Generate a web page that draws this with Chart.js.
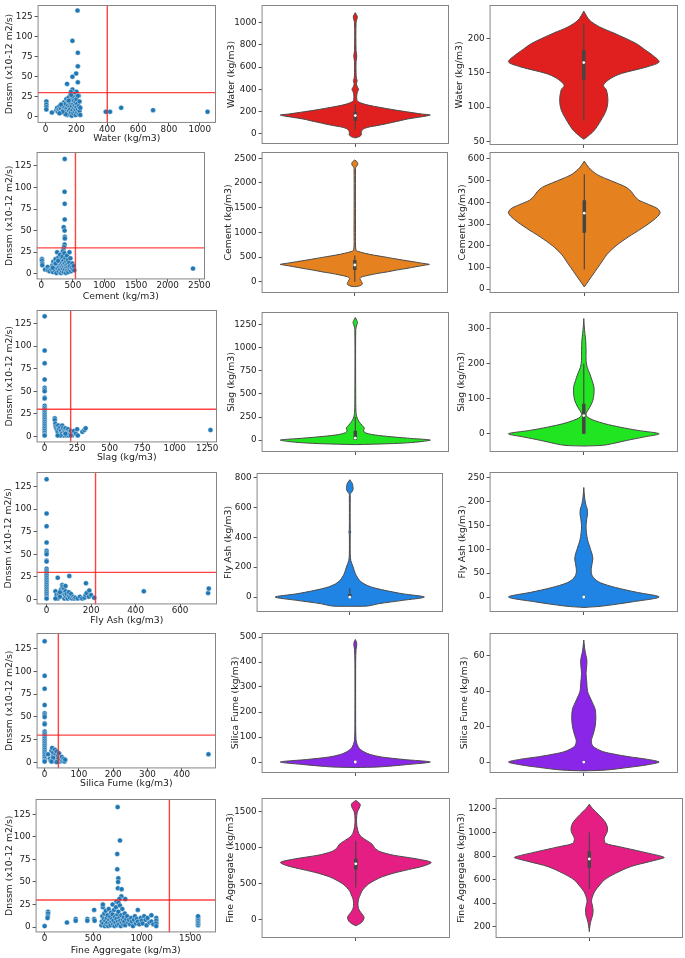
<!DOCTYPE html>
<html>
<head>
<meta charset="utf-8">
<script src="https://cdn.jsdelivr.net/npm/chart.js@4.4.0/dist/chart.umd.min.js"></script>
<style>
  body { margin: 0; background: #fff; width: 685px; height: 958px; position: relative; overflow: hidden; }
  canvas { position: absolute; }
</style>
</head>
<body>
<script>
// ---------- data ----------
const dnssmLimit = 30;
const componentLimits = [400, 540, 200, 220, 40, 1285];
const scatterYTicks = [0, 25, 50, 75, 100, 125];

// Dnssm vs component, [x, y]
const waterPts = [[207,133],[174,95],[209,80],[209,63],[198,54],[174,50],[209,43],[139,41],[174,34],[165,31],[200,31],[185,28],[215,26],[160,27],[195,25],
  [5,19],[5,15],[5,12],[5,9],[41,5],
  [70,8],[75,11],[80,6],[85,9],[90,13],[95,7],[100,10],[105,5],[110,14],[115,8],[120,12],[120,18],[125,4],[130,9],[130,16],[135,6],[135,22],[140,11],[140,2],[145,14],[145,19],[150,7],[150,24],[155,3],[155,12],[160,9],[160,17],[165,5],[165,21],[170,13],[170,1],[175,8],[175,25],[180,16],[180,4],[185,11],[185,20],[190,6],[190,14],[195,2],[195,9],[195,18],[200,12],[200,22],[205,5],[205,16],[210,9],[210,26],[215,3],[215,13],[220,7],[220,19],[225,11],[225,2],[165,27],[150,20],[130,3],[110,6],[90,4],[100,15],
  [390,6],[418,6],[490,11],[697,8],[1050,6]];
const cementPts = [[370,133],[368,95],[370,81],[370,63],[354,54],[368,50],[372,43],[372,41],[368,34],[360,31],[350,28],[340,26],
  [10,17],[10,15],[15,12],[15,10],[60,5],[100,8],[105,4],[130,3],
  [160,5],[175,10],[185,2],[190,14],[200,7],[210,11],[215,4],[225,17],[230,8],[240,1],[245,13],[250,25],[255,6],[265,10],[270,19],[275,3],[285,8],[290,14],[295,22],[300,5],[305,11],[310,1],[315,17],[320,8],[325,13],[330,3],[335,20],[340,6],[345,10],[350,15],[355,2],[360,8],[365,24],[370,12],[375,5],[380,18],[385,9],[390,1],[395,14],[400,7],[405,21],[410,4],[415,11],[420,16],[425,2],[430,8],[440,13],[445,25],[450,5],[455,9],[460,18],[470,3],[480,7],[490,12],[500,5],[510,9],[520,4],[225,12],[180,7],[265,15],
  [2400,6]];
const slagPts = [[0,133],[0,95],[0,81],[0,63],[0,54],[0,52],[0,50],[0,43],[0,42],[0,34],[0,32],[0,30],[0,28],[0,26],[0,24],[0,22],[0,20],[0,18],[0,16],[0,14],[0,12],[0,10],[0,8],[0,6],[0,4],[0,2],[0,1],
  [78,20],[78,18],[82,14],[85,11],[90,9],[95,7],[100,5],[105,12],[110,8],[115,1],[120,10],[125,6],[130,3],[135,12],[140,9],[145,1],[150,7],[155,5],[160,9],[165,1],[170,6],[175,4],[180,8],[185,1],[190,5],[195,3],[200,6],[210,1],[215,4],[225,6],[240,3],[250,8],[255,1],[290,5],[305,7],[315,9],[120,1],[100,1],[160,3],[200,1],
  [1275,7]];
const flyAshPts = [[0,133],[0,95],[0,81],[0,63],[0,54],[0,52],[0,50],[0,43],[0,42],[0,34],[0,32],[0,30],[0,28],[0,26],[0,24],[0,22],[0,20],[0,18],[0,16],[0,14],[0,12],[0,10],[0,8],[0,6],[0,4],[0,2],[0,1],
  [50,24],[102,26],[40,9],[45,5],[50,1],[55,6],[60,3],[65,11],[70,16],[72,14],[75,7],[78,12],[80,1],[82,5],[85,9],[88,3],[90,6],[95,1],[100,4],[100,8],[105,2],[110,6],[115,1],[120,3],[125,1],[130,2],[140,1],[150,3],[160,1],[170,2],[175,5],[177,18],[180,7],[190,3],[192,10],[200,5],[214,2],[60,8],[40,1],[85,15],
  [437,9],[726,7],[729,12]];
const silicaPts = [[0,133],[0,95],[0,81],[0,63],[0,54],[0,52],[0,50],[0,43],[0,42],[0,34],[0,32],[0,30],[0,28],[0,26],[0,24],[0,22],[0,20],[0,18],[0,16],[0,14],[0,12],[0,10],[0,8],[0,6],[0,4],[0,2],[0,1],
  [10,9],[15,4],[18,2],[20,13],[22,16],[24,7],[25,11],[28,3],[30,14],[30,1],[32,9],[34,5],[35,12],[36,2],[38,7],[40,4],[42,10],[45,1],[48,3],[50,6],[52,2],[55,4],[58,1],[60,3],[25,5],[20,1],[35,0.5],
  [478,9]];
const finePts = [[752,133],[776,96],[748,81],[748,64],[759,54],[757,50],[755,43],[793,42],[790,34],[770,31],[830,31],[740,28],[760,27],
  [0,1],[35,17],[35,15],[33,12],[30,10],[230,5],[320,9],[320,7],[440,9],[440,7],[510,19],[510,9],[515,7],
  [585,2],[590,6],[595,12],[600,22],[600,25],[605,4],[610,9],[615,15],[620,1],[625,7],[630,18],[635,3],[640,10],[645,5],[650,13],[655,1],[660,20],[665,8],[670,4],[675,11],[680,2],[685,16],[690,6],[695,9],[700,25],[700,14],[705,3],[710,7],[715,19],[720,1],[725,11],[730,5],[735,22],[740,9],[745,2],[750,14],[755,6],[760,17],[765,3],[770,10],[775,24],[780,7],[785,1],[790,13],[795,5],[800,20],[805,8],[810,3],[815,11],[820,6],[825,15],[830,2],[840,9],[850,12],[860,5],[870,8],[880,3],[890,10],[900,6],[910,1],[920,8],[930,12],[940,4],[950,9],[960,19],[960,6],[975,3],[990,10],[1000,7],[1010,4],[1025,12],[1040,8],[1050,2],[1060,10],[1080,5],[1100,13],[1100,6],[1120,3],[1150,10],[1150,7],[1150,4],[1150,1],
  [1580,2],[1580,4],[1580,6],[1580,8],[1580,10],[1580,12]];

const waterXTicks = [0, 200, 400, 600, 800, 1000];
const cementXTicks = [0, 500, 1000, 1500, 2000, 2500];
const slagXTicks = [0, 250, 500, 750, 1000, 1250];
const flyAshXTicks = [0, 200, 400, 600];
const silicaXTicks = [0, 100, 200, 300, 400];
const fineXTicks = [0, 500, 1000, 1500];

// violin outlines: value and relative half width (1 = widest)
const waterAllY = [-35,-25,-10,0,20,40,50,65,75,90,105,120,135,150,162,171,180,190,200,210,220,240,260,280,300,350,380,400,420,450,480,500,550,650,700,750,1000,1040,1060,1090];
const waterAllW = [0,0.05,0.08,0.08,0.08,0.1,0.12,0.2,0.29,0.4,0.5,0.6,0.7,0.84,0.95,1,0.88,0.78,0.68,0.58,0.49,0.32,0.17,0.07,0.025,0.02,0.03,0.045,0.03,0.015,0.025,0.015,0.01,0.01,0.02,0.01,0.01,0.025,0.025,0];
const waterCleanY = [53,57,66,81,96,110,125,132,142,149,159,166,176,183,193,208,217,227,240];
const waterCleanW = [0,0.05,0.14,0.23,0.3,0.32,0.3,0.26,0.36,0.5,0.85,1,0.91,0.82,0.69,0.4,0.21,0.075,0];
const cementAllY = [-100,-90,-75,-50,-25,0,30,67,101,135,169,200,236,270,304,338,351,380,405,439,470,507,540,574,610,640,1000,2300,2331,2360,2399,2430,2466];
const cementAllW = [0,0.05,0.08,0.1,0.1,0.09,0.08,0.07,0.1,0.2,0.31,0.44,0.56,0.7,0.82,0.95,1,0.88,0.78,0.64,0.52,0.38,0.25,0.14,0.05,0.015,0.01,0.01,0.02,0.035,0.04,0.03,0];
const cementCleanY = [10,40,80,120,160,200,240,280,320,350,370,390,410,430,450,470,490,510,530,560,590];
const cementCleanW = [0,0.06,0.14,0.22,0.3,0.42,0.58,0.76,0.92,1,0.97,0.85,0.72,0.66,0.62,0.55,0.42,0.28,0.16,0.06,0];
const slagAllY = [-50,-40,-30,-15,0,20,40,60,80,100,130,160,200,250,300,400,1200,1250,1275,1300,1330];
const slagAllW = [0,0.45,0.7,0.9,1,0.7,0.42,0.22,0.13,0.11,0.12,0.09,0.05,0.02,0.01,0.006,0.006,0.02,0.03,0.02,0];
const slagCleanY = [-35,-33,-28.6,-19,-9.5,0,9.5,19,28.6,38,47.6,57,76,95,114,133,152,171,190,209,238,267,286,310,329];
const slagCleanW = [0,0.25,0.37,0.57,0.79,1,0.72,0.48,0.28,0.14,0.05,0.03,0.08,0.12,0.135,0.135,0.11,0.08,0.045,0.03,0.03,0.025,0.015,0.005,0];
const flyAllY = [-62,-60,-45,-22,0,22,45,67,89,112,134,156,201,246,290,420,436,452,680,693,710,726,745,760,786];
const flyAllW = [0,0.24,0.38,0.71,1,0.71,0.47,0.29,0.19,0.13,0.1,0.075,0.045,0.013,0.006,0.006,0.012,0.006,0.006,0.01,0.035,0.045,0.04,0.035,0];
const flyCleanY = [-22,-19,-10,0,10,20,30,40,50,60,70,80,90,100,110,120,135,150,165,175,185,195,210,230];
const flyCleanW = [0,0.25,0.65,1,0.7,0.42,0.22,0.13,0.1,0.1,0.11,0.12,0.11,0.09,0.07,0.05,0.035,0.03,0.04,0.05,0.045,0.025,0.01,0];
const silicaAllY = [-22,-20,-10,0,10,20,30,40,50,60,80,100,150,400,450,470,480,490];
const silicaAllW = [0,0.3,0.7,1,0.65,0.35,0.2,0.12,0.07,0.04,0.015,0.008,0.005,0.005,0.01,0.02,0.015,0];
const silicaCleanY = [-5,-4.5,-3,-1.5,0,1.5,3,4.5,6,9,12,15,20,25,30,35,40,45,50,55,58,62,65,69];
const silicaCleanW = [0,0.3,0.6,0.85,1,0.85,0.6,0.4,0.25,0.12,0.1,0.12,0.15,0.16,0.15,0.1,0.05,0.04,0.03,0.04,0.04,0.02,0.01,0];
const fineAllY = [-80,-60,-30,0,30,60,100,150,200,250,300,350,400,450,500,550,600,650,700,750,800,850,900,950,1000,1050,1100,1150,1200,1300,1400,1500,1550,1600,1630,1660];
const fineAllW = [0,0.04,0.08,0.1,0.11,0.1,0.07,0.04,0.03,0.03,0.04,0.06,0.08,0.12,0.17,0.25,0.35,0.5,0.7,0.9,1,0.8,0.5,0.32,0.25,0.22,0.15,0.08,0.04,0.015,0.01,0.02,0.045,0.06,0.04,0];
const fineCleanY = [158,214,257,299,342,384,412,441,497,554,597,653,710,752,786,795,837,880,908,951,1007,1050,1092,1149,1206,1240];
const fineCleanW = [0,0.01,0.025,0.045,0.05,0.04,0.03,0.035,0.07,0.14,0.2,0.35,0.55,0.8,1,0.98,0.7,0.4,0.22,0.2,0.24,0.24,0.21,0.13,0.04,0];

// inner box: [whisker low, q1, median, q3, whisker high]
const waterAllBox = [40, 120, 165, 200, 270];
const waterCleanBox = [80, 140, 165, 183, 222];
const cementAllBox = [0, 236, 338, 439, 530];
const cementCleanBox = [90, 260, 350, 410, 530];
const slagAllBox = [0, 0, 20, 100, 250];
const slagCleanBox = [0, 0, 52, 86, 200];
const flyAllBox = [0, 0, 0, 20, 60];
const flyCleanBox = [0, 0, 0, 2, 5];
const silicaAllBox = [0, 0, 0, 3, 8];
const silicaCleanBox = [0, 0, 0, 0.5, 1];
const fineAllBox = [450, 700, 780, 850, 1100];
const fineCleanBox = [520, 700, 775, 840, 1000];

const waterAllTicks = [0, 200, 400, 600, 800, 1000];
const waterCleanTicks = [50, 100, 150, 200];
const cementAllTicks = [0, 500, 1000, 1500, 2000, 2500];
const cementCleanTicks = [0, 100, 200, 300, 400, 500, 600];
const slagAllTicks = [0, 250, 500, 750, 1000, 1250];
const slagCleanTicks = [0, 100, 200, 300];
const flyAllTicks = [0, 200, 400, 600, 800];
const flyCleanTicks = [0, 50, 100, 150, 200, 250];
const silicaAllTicks = [0, 100, 200, 300, 400, 500];
const silicaCleanTicks = [0, 20, 40, 60];
const fineAllTicks = [0, 500, 1000, 1500];
const fineCleanTicks = [200, 400, 600, 800, 1000, 1200];

const labels = ['Water (kg/m3)', 'Cement (kg/m3)', 'Slag (kg/m3)', 'Fly Ash (kg/m3)', 'Silica Fume (kg/m3)', 'Fine Aggregate (kg/m3)'];
const colors = ['#e01f1f', '#e5821f', '#21e521', '#1f84e3', '#8a26e8', '#e51e84'];

// ---------- drawing ----------
Chart.defaults.font.family = 'DejaVu Sans';
Chart.defaults.color = '#222';
Chart.defaults.animation = false;

const TICK_FONT = 8.8, TITLE_FONT = 9.3, LH = TITLE_FONT * 1.2;

const framePlugin = {
  id: 'frame',
  afterDatasetsDraw(chart) {
    const a = chart.chartArea, ctx = chart.ctx;
    ctx.save();
    ctx.strokeStyle = '#858585';
    ctx.lineWidth = 1;
    ctx.strokeRect(a.left + 0.5, a.top + 0.5, a.right - a.left - 1, a.bottom - a.top - 1);
    ctx.restore();
  }
};

function addCanvas(rect, yw, xh, padT, padR) {
  const c = document.createElement('canvas');
  const w = Math.round(yw + (rect.r - rect.l) + padR);
  const h = Math.round(padT + (rect.b - rect.t) + xh);
  c.width = w; c.height = h;
  c.style.width = w + 'px'; c.style.height = h + 'px';
  c.style.left = (rect.l - yw) + 'px';
  c.style.top = (rect.t - padT) + 'px';
  document.body.appendChild(c);
  return c;
}

function yAxis(range, ticks, title, yw) {
  return {
    type: 'linear', position: 'left', min: range[0], max: range[1],
    afterBuildTicks: s => { s.ticks = ticks.map(v => ({value: v})); },
    afterFit: s => { s.width = yw; s.paddingTop = 0; s.paddingBottom = 0; },
    grid: {drawOnChartArea: false, tickLength: 3, color: '#555'},
    border: {display: false},
    ticks: {padding: 2, autoSkip: false, font: {size: TICK_FONT}, color: '#222', callback: v => String(v)},
    title: {display: true, text: title, font: {size: TITLE_FONT}, padding: 0, color: '#222'}
  };
}

function xAxis(range, ticks, title, xh) {
  return {
    type: 'linear', position: 'bottom', min: range[0], max: range[1],
    afterBuildTicks: s => { s.ticks = ticks.map(v => ({value: v})); },
    afterFit: s => { s.height = xh; s.paddingLeft = 0; s.paddingRight = 0; },
    grid: {drawOnChartArea: false, tickLength: 3, color: '#555'},
    border: {display: false},
    ticks: {padding: -1, autoSkip: false, maxRotation: 0, font: {size: TICK_FONT, lineHeight: 1}, color: '#222',
      callback: v => title ? String(v) : ''},
    title: {display: !!title, text: title || '', font: {size: TITLE_FONT}, padding: 0, color: '#222'}
  };
}

function scatterPanel(p) {
  const yw = p.rect.l - p.yTitleX + LH / 2;
  const xh = p.xTitleY - p.rect.b + LH / 2;
  const padT = 6, padR = 14;
  const c = addCanvas(p.rect, yw, xh, padT, padR);
  const line = (pts) => ({data: pts, showLine: true, borderColor: 'rgba(255,20,20,0.8)', borderWidth: 1.4, pointRadius: 0, fill: false});
  new Chart(c, {
    type: 'scatter',
    data: {datasets: [
      line([{x: p.xr[0], y: dnssmLimit}, {x: p.xr[1], y: dnssmLimit}]),
      line([{x: p.limit, y: p.yr[0]}, {x: p.limit, y: p.yr[1]}]),
      {data: p.pts.map(d => ({x: d[0], y: d[1]})), pointRadius: 2.5, pointBackgroundColor: '#1f77b4',
        pointBorderColor: '#ffffff', pointBorderWidth: 0.4}
    ]},
    options: {
      responsive: false, devicePixelRatio: 1,
      layout: {padding: {left: 0, top: padT, right: padR, bottom: 0}},
      plugins: {legend: {display: false}, tooltip: {enabled: false}},
      scales: {
        x: xAxis(p.xr, p.xTicks, p.label, xh),
        y: yAxis(p.yr, scatterYTicks, 'Dnssm (x10-12 m2/s)', yw)
      }
    },
    plugins: [framePlugin]
  });
}

function violinPanel(p) {
  const yw = p.rect.l - p.yTitleX + LH / 2;
  const xh = 4, padT = 6, padR = 6;
  const half = 0.4;
  const c = addCanvas(p.rect, yw, xh, padT, padR);
  const right = p.vy.map((y, i) => ({x: p.vw[i] * half, y}));
  const left = p.vy.map((y, i) => ({x: -p.vw[i] * half, y})).reverse();
  const b = p.box;
  new Chart(c, {
    type: 'scatter',
    data: {datasets: [
      {data: [{x: 0, y: b[2]}], pointRadius: 1.4, pointBackgroundColor: '#ffffff', pointBorderWidth: 0, order: 0},
      {data: [{x: 0, y: b[1]}, {x: 0, y: b[3]}], showLine: true, borderColor: '#454545', borderWidth: 3.5,
        borderCapStyle: 'butt', pointRadius: 0, order: 1},
      {data: [{x: 0, y: b[0]}, {x: 0, y: b[4]}], showLine: true, borderColor: '#454545', borderWidth: 1.1,
        pointRadius: 0, order: 2},
      {data: right.concat(left), showLine: true, fill: 'shape', backgroundColor: p.color, borderColor: '#4a4a4a',
        borderWidth: 1, pointRadius: 0, tension: 0.3, order: 3}
    ]},
    options: {
      responsive: false, devicePixelRatio: 1,
      layout: {padding: {left: 0, top: padT, right: padR, bottom: 0}},
      plugins: {legend: {display: false}, tooltip: {enabled: false}},
      scales: {
        x: xAxis([-0.5, 0.5], [0], '', xh),
        y: yAxis(p.yr, p.ticks, p.label, yw)
      }
    },
    plugins: [framePlugin]
  });
}

const scatterPanels = [
  {pts: waterPts, xTicks: waterXTicks, xr: [-52, 1105], yr: [-8, 140], rect: {l: 38, t: 5, r: 216, b: 123}, xTitleY: 138.5, yTitleX: 10},
  {pts: cementPts, xTicks: cementXTicks, xr: [-75, 2590], yr: [-6.5, 141], rect: {l: 37, t: 152, r: 205, b: 279}, xTitleY: 296, yTitleX: 10},
  {pts: slagPts, xTicks: slagXTicks, xr: [-62, 1325], yr: [-6.7, 140], rect: {l: 37, t: 310, r: 217, b: 442}, xTitleY: 457, yTitleX: 10},
  {pts: flyAshPts, xTicks: flyAshXTicks, xr: [-45, 766], yr: [-5.5, 141], rect: {l: 37, t: 472, r: 217, b: 604}, xTitleY: 620, yTitleX: 9},
  {pts: silicaPts, xTicks: silicaXTicks, xr: [-23.5, 500], yr: [-6.5, 142], rect: {l: 37, t: 633, r: 216, b: 768}, xTitleY: 783, yTitleX: 10},
  {pts: finePts, xTicks: fineXTicks, xr: [-93, 1765], yr: [-6, 142], rect: {l: 36, t: 799, r: 216, b: 932}, xTitleY: 950, yTitleX: 10}
];
scatterPanels.forEach((p, i) => scatterPanel(Object.assign(p, {limit: componentLimits[i], label: labels[i]})));

const violinPanels = [
  {vy: waterAllY, vw: waterAllW, box: waterAllBox, ticks: waterAllTicks, yr: [-90, 1159], rect: {l: 262, t: 5, r: 449, b: 144}, yTitleX: 232},
  {vy: waterCleanY, vw: waterCleanW, box: waterCleanBox, ticks: waterCleanTicks, yr: [44.6, 249], rect: {l: 490, t: 5, r: 678, b: 145}, yTitleX: 460},
  {vy: cementAllY, vw: cementAllW, box: cementAllBox, ticks: cementAllTicks, yr: [-229, 2628], rect: {l: 262, t: 152, r: 448, b: 293}, yTitleX: 229},
  {vy: cementCleanY, vw: cementCleanW, box: cementCleanBox, ticks: cementCleanTicks, yr: [-18, 632], rect: {l: 490, t: 152, r: 679, b: 293}, yTitleX: 463},
  {vy: slagAllY, vw: slagAllW, box: slagAllBox, ticks: slagAllTicks, yr: [-130, 1390], rect: {l: 262, t: 312, r: 449, b: 452}, yTitleX: 232},
  {vy: slagCleanY, vw: slagCleanW, box: slagCleanBox, ticks: slagCleanTicks, yr: [-52, 347.6], rect: {l: 490, t: 312, r: 678, b: 452}, yTitleX: 462},
  {vy: flyAllY, vw: flyAllW, box: flyAllBox, ticks: flyAllTicks, yr: [-100, 831], rect: {l: 257, t: 473, r: 443, b: 612}, yTitleX: 229},
  {vy: flyCleanY, vw: flyCleanW, box: flyCleanBox, ticks: flyCleanTicks, yr: [-31.5, 262.6], rect: {l: 490, t: 472, r: 678, b: 612}, yTitleX: 463},
  {vy: silicaAllY, vw: silicaAllW, box: silicaAllBox, ticks: silicaAllTicks, yr: [-44, 516], rect: {l: 262, t: 633, r: 449, b: 773}, yTitleX: 236},
  {vy: silicaCleanY, vw: silicaCleanW, box: silicaCleanBox, ticks: silicaCleanTicks, yr: [-6.2, 73], rect: {l: 490, t: 633, r: 678, b: 773}, yTitleX: 465},
  {vy: fineAllY, vw: fineAllW, box: fineAllBox, ticks: fineAllTicks, yr: [-250, 1694], rect: {l: 262, t: 798, r: 450, b: 938}, yTitleX: 231},
  {vy: fineCleanY, vw: fineCleanW, box: fineCleanBox, ticks: fineCleanTicks, yr: [104, 1293], rect: {l: 496, t: 798, r: 683, b: 938}, yTitleX: 462}
];
violinPanels.forEach((p, i) => violinPanel(Object.assign(p, {label: labels[Math.floor(i / 2)], color: colors[Math.floor(i / 2)]})));
</script>
</body>
</html>
